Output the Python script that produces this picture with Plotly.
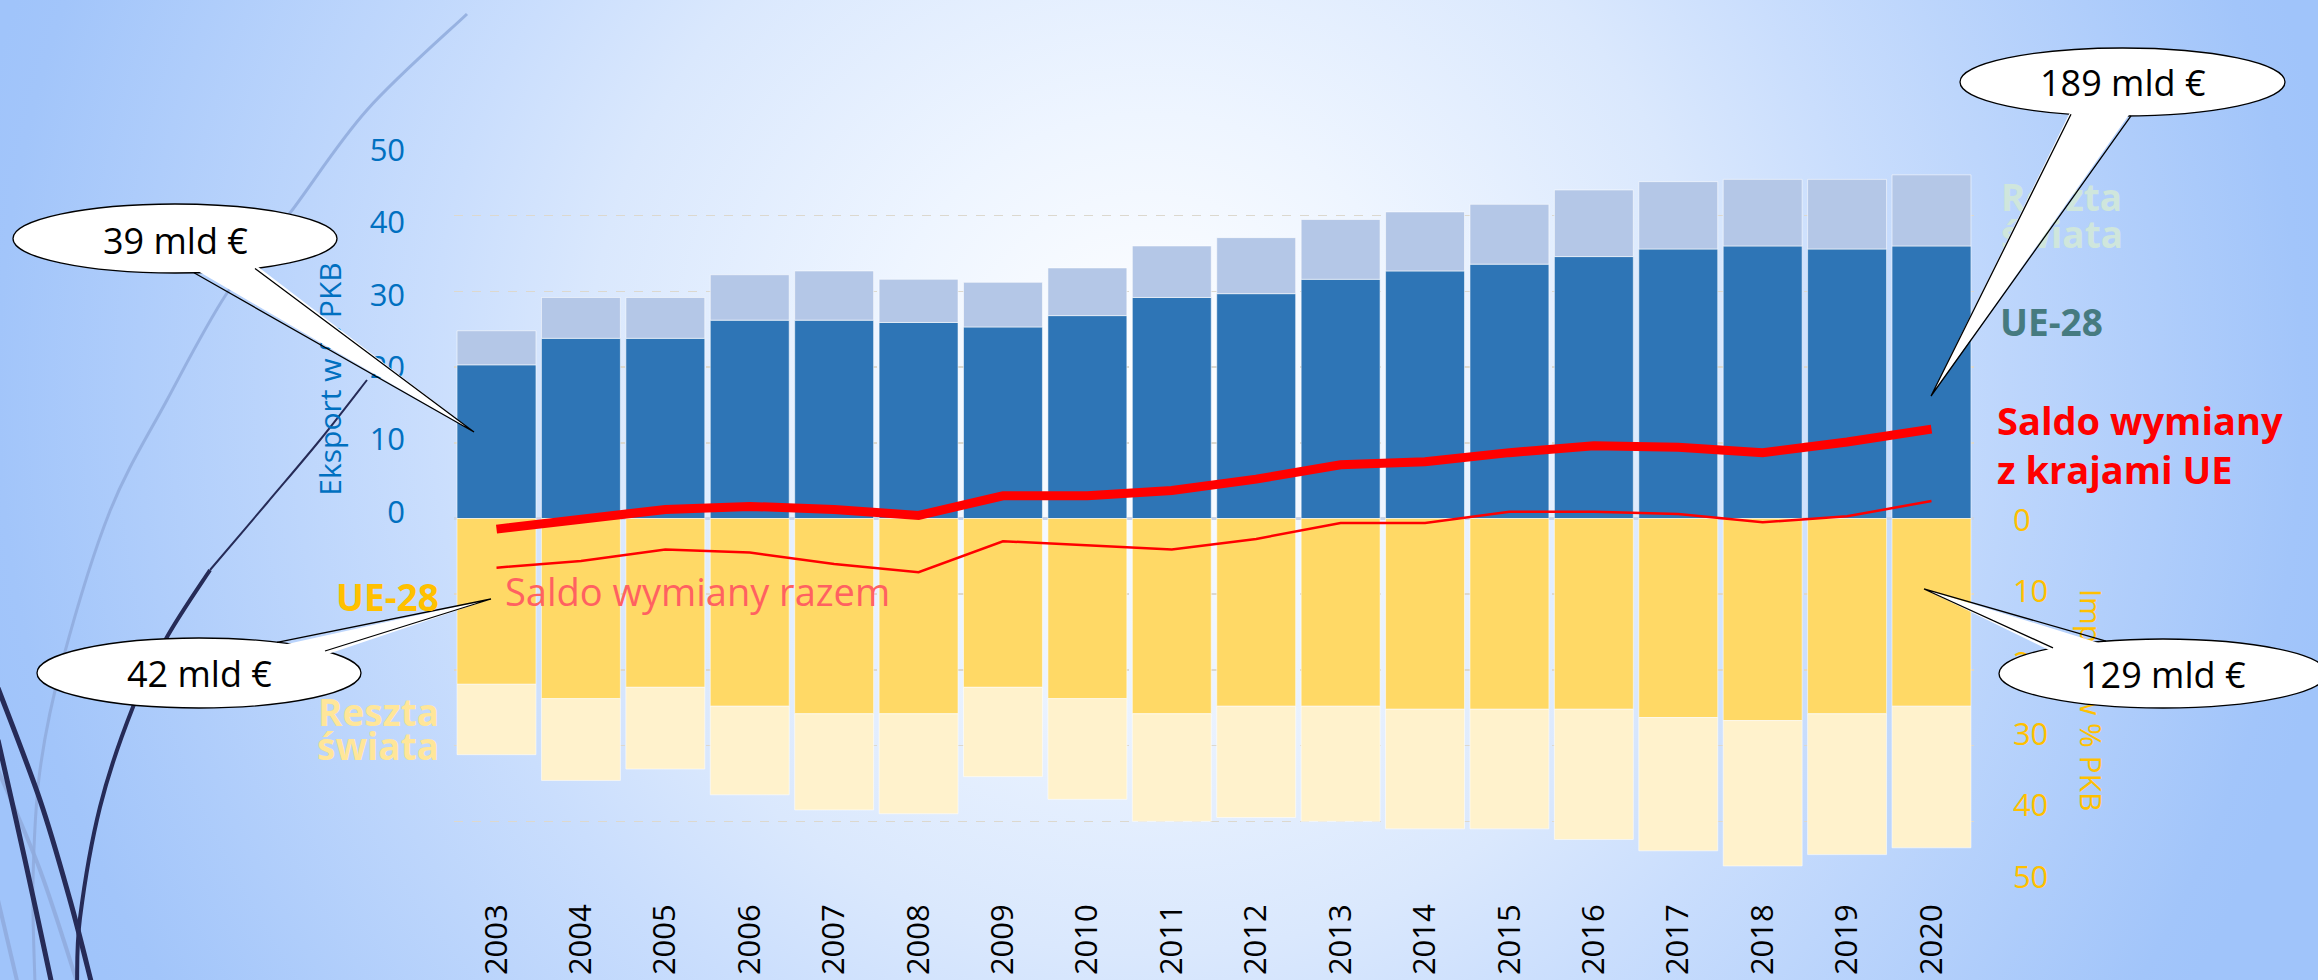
import base64
import plotly.graph_objects as go

# ---------------- data (% of GDP) ----------------
years = [str(y) for y in range(2003, 2021)]
export_eu = [20.3, 23.8, 23.8, 26.2, 26.2, 25.9, 25.3, 26.8, 29.2, 29.7, 31.6, 32.7, 33.6, 34.6, 35.6, 36.0, 35.6, 36.0]
export_rest = [4.5, 5.4, 5.4, 6.0, 6.5, 5.7, 5.9, 6.3, 6.8, 7.4, 7.9, 7.8, 7.9, 8.8, 8.9, 8.8, 9.2, 9.4]
import_eu = [21.9, 23.8, 22.3, 24.8, 25.8, 25.8, 22.3, 23.8, 25.8, 24.8, 24.8, 25.2, 25.2, 25.2, 26.3, 26.7, 25.8, 24.8]
import_rest = [9.3, 10.8, 10.8, 11.7, 12.7, 13.2, 11.8, 13.3, 14.2, 14.7, 15.2, 15.8, 15.8, 17.2, 17.6, 19.2, 18.6, 18.7]
balance_eu = [-1.4, -0.1, 1.2, 1.6, 1.2, 0.4, 3.0, 3.0, 3.7, 5.2, 7.1, 7.5, 8.7, 9.6, 9.4, 8.7, 10.1, 11.8]
balance_total = [-6.5, -5.6, -4.1, -4.5, -6.0, -7.1, -3.0, -3.6, -4.1, -2.7, -0.6, -0.6, 0.9, 0.9, 0.6, -0.5, 0.3, 2.3]
export_ticks = [0, 10, 20, 30, 40, 50]
import_ticks = [0, 10, 20, 30, 40, 50]
callout_texts = ["39 mld €", "42 mld €", "189 mld €", "129 mld €"]

# ---------------- layout geometry (pixels) ----------------
W, H = 2318, 980
PL, PR, PT, PB = 454.3, 1973.7, 140.0, 897.0
FONT = "Open Sans"


def fx(p):
    return p / W


def fy(p):
    return 1 - p / H


# ---------------- background (gradient + slide decoration) ----------------
def smooth(pts):
    d = "M %.1f %.1f" % pts[0]
    for i in range(len(pts) - 1):
        p0 = pts[i - 1] if i > 0 else pts[i]
        p1, p2 = pts[i], pts[i + 1]
        p3 = pts[i + 2] if i + 2 < len(pts) else p2
        c1 = (p1[0] + (p2[0] - p0[0]) / 6, p1[1] + (p2[1] - p0[1]) / 6)
        c2 = (p2[0] - (p3[0] - p1[0]) / 6, p2[1] - (p3[1] - p1[1]) / 6)
        d += " C %.1f %.1f %.1f %.1f %.1f %.1f" % (c1[0], c1[1], c2[0], c2[1], p2[0], p2[1])
    return d


light_arc = [(467, 14), (367, 110), (290, 213), (227, 293), (167, 400), (110, 511), (63, 659), (40, 770), (33, 881), (35, 985)]
navy_top = [(367, 380), (320, 440), (267, 503), (210, 570)]
navy_bot = [(210, 570), (167, 637), (133, 707), (100, 807), (80, 918), (77, 985)]
navy_a = [(-2, 688), (40, 800), (70, 900), (92, 985)]
navy_b = [(-2, 740), (25, 860), (52, 985)]
light_d = [(-2, 770), (40, 870), (78, 985)]
light_e = [(-2, 900), (18, 985)]

svg = f'''<svg xmlns="http://www.w3.org/2000/svg" width="{W}" height="{H}" viewBox="0 0 {W} {H}" preserveAspectRatio="none">
<defs><radialGradient id="g" gradientUnits="userSpaceOnUse" cx="1150" cy="390" r="1200">
<stop offset="0" stop-color="#FFFFFF"/>
<stop offset="0.23" stop-color="#EEF5FF"/>
<stop offset="0.47" stop-color="#DAE8FD"/>
<stop offset="0.6" stop-color="#CADEFD"/>
<stop offset="0.96" stop-color="#A2C5FA"/>
<stop offset="1" stop-color="#A0C4FA"/>
</radialGradient></defs>
<rect x="0" y="0" width="{W}" height="{H}" fill="url(#g)"/>
<path d="{smooth(light_arc)}" fill="none" stroke="#8FAADC" stroke-width="3" stroke-opacity="0.85"/>
<path d="{smooth(light_d)}" fill="none" stroke="#8FAADC" stroke-width="4" stroke-opacity="0.85"/>
<path d="{smooth(light_e)}" fill="none" stroke="#8FAADC" stroke-width="4" stroke-opacity="0.85"/>
<path d="{smooth(navy_top)}" fill="none" stroke="#262B57" stroke-width="2"/>
<path d="{smooth(navy_bot)}" fill="none" stroke="#262B57" stroke-width="4"/>
<path d="{smooth(navy_a)}" fill="none" stroke="#262B57" stroke-width="5"/>
<path d="{smooth(navy_b)}" fill="none" stroke="#262B57" stroke-width="5"/>
</svg>'''
bg_src = "data:image/svg+xml;base64," + base64.b64encode(svg.encode("utf-8")).decode("ascii")

# ---------------- traces ----------------
fig = go.Figure()
bar_line = dict(color="rgba(255,255,255,0.55)", width=1)
fig.add_trace(go.Bar(x=years, y=export_eu, name="Eksport UE-28", marker=dict(color="#2E75B6", line=bar_line)))
fig.add_trace(go.Bar(x=years, y=export_rest, name="Eksport reszta świata", marker=dict(color="#B4C7E7", line=bar_line)))
fig.add_trace(go.Bar(x=years, y=[-v for v in import_eu], name="Import UE-28", marker=dict(color="#FFD966", line=bar_line)))
fig.add_trace(go.Bar(x=years, y=[-v for v in import_rest], name="Import reszta świata", marker=dict(color="#FFF2CC", line=bar_line)))
fig.add_trace(go.Scatter(x=years, y=balance_total, mode="lines", name="Saldo wymiany razem",
                         line=dict(color="#FF0000", width=2.5)))
fig.add_trace(go.Scatter(x=years, y=balance_eu, mode="lines", name="Saldo wymiany z krajami UE",
                         line=dict(color="#FF0000", width=9)))
# empty carriers so that the two label axes (export scale left, import scale right) are drawn
fig.add_trace(go.Scatter(x=[None], y=[None], yaxis="y2", mode="lines", hoverinfo="skip", showlegend=False))
fig.add_trace(go.Scatter(x=[None], y=[None], yaxis="y3", mode="lines", hoverinfo="skip", showlegend=False))

# ---------------- axes ----------------
span = PB - PT
left_px_per = (512 - 150) / 50.0
left_top = (512 - PT) / left_px_per
left_rng = [left_top - span / left_px_per, left_top]
right_px_per = (877 - 520) / 50.0
right_top = (520 - PT) / right_px_per
right_rng = [right_top - span / right_px_per, right_top]

fig.update_layout(
    width=W, height=H,
    margin=dict(l=0, r=0, t=0, b=0, pad=0, autoexpand=False),
    paper_bgcolor="#C4DAFC", plot_bgcolor="rgba(0,0,0,0)",
    barmode="relative", bargap=0.065, showlegend=False,
    font=dict(family=FONT),
    xaxis=dict(domain=[fx(PL), fx(PR)], tickangle=-90, showgrid=False, showline=False, ticks="",
               tickfont=dict(family=FONT, size=31, color="#000000"), fixedrange=True),
    yaxis=dict(domain=[fy(PB), fy(PT)], range=[-50, 50], dtick=10, showticklabels=False,
               showgrid=True, gridcolor="#DCD8CE", griddash="dash", gridwidth=1.5,
               zeroline=True, zerolinecolor="#C9D4E6", zerolinewidth=2.5, fixedrange=True),
    yaxis2=dict(overlaying="y", anchor="x", side="left", range=left_rng,
                tickmode="array", tickvals=export_ticks, ticktext=[str(v) for v in export_ticks],
                tickfont=dict(family=FONT, size=31, color="#0070C0"),
                ticks="outside", ticklen=42, tickcolor="rgba(0,0,0,0)",
                showgrid=False, zeroline=False, showline=False, fixedrange=True),
    yaxis3=dict(overlaying="y", anchor="x", side="right", range=right_rng,
                tickmode="array", tickvals=[-v for v in import_ticks], ticktext=[str(v) for v in import_ticks],
                tickfont=dict(family=FONT, size=31, color="#FFC000"),
                ticks="outside", ticklen=32, tickcolor="rgba(0,0,0,0)",
                showgrid=False, zeroline=False, showline=False, fixedrange=True),
)

fig.add_layout_image(dict(source=bg_src, xref="paper", yref="paper", x=0, y=1, sizex=1, sizey=1,
                          xanchor="left", yanchor="top", sizing="stretch", layer="below"))

# ---------------- texts that sit under the callouts (shape labels) ----------------
shapes = []


def text_shape(cx, cy, text, size, color, angle=0, pos="middle center", w=6, h=6):
    shapes.append(dict(type="rect", xref="paper", yref="paper",
                       x0=fx(cx - w), x1=fx(cx + w), y0=fy(cy + h), y1=fy(cy - h),
                       line=dict(width=0), fillcolor="rgba(0,0,0,0)", layer="above",
                       label=dict(text=text, textangle=angle, textposition=pos, padding=0,
                                  font=dict(family=FONT, size=size, color=color))))


text_shape(331, 379, "Eksport w % PKB", 30, "#0070C0", angle=-90)
text_shape(2089, 700, "Import w % PKB", 30, "#FFC000", angle=90)
text_shape(1998 + 6, 199, "<b>Reszta</b>", 37, "#CFE6DC", pos="middle left")
text_shape(1998 + 6, 236, "<b>świata</b>", 37, "#CFE6DC", pos="middle left")

# ---------------- callout bubbles ----------------
callouts = [
    # ellipse box, tail base x's, side, tip, text centre
    ((13, 204, 337, 273), (194, 255), "bottom", (474, 432), (175, 240)),
    ((37, 638, 361, 708), (277, 325), "top", (491, 599), (199, 673)),
    ((1960, 48, 2285, 116), (2071, 2131), "bottom", (1931, 396), (2123, 82)),
    ((1999, 639, 2327, 708), (2053, 2106), "top", (1924, 589), (2163, 674)),
]
annotations = []
for (box, bxs, side, tip, tc), txt in zip(callouts, callout_texts):
    x0, y0, x1, y1 = box
    cx, cy = (x0 + x1) / 2, (y0 + y1) / 2
    rx, ry = (x1 - x0) / 2, (y1 - y0) / 2
    base = []
    for bx in bxs:
        k = max(0.0, 1 - ((bx - cx) / rx) ** 2) ** 0.5
        by = cy + ry * k if side == "bottom" else cy - ry * k
        base.append((bx, by))
    inset = -4 if side == "bottom" else 4
    shapes.append(dict(type="circle", xref="paper", yref="paper", x0=fx(x0), x1=fx(x1), y0=fy(y1), y1=fy(y0),
                       fillcolor="#FFFFFF", line=dict(color="#000000", width=1.3), layer="above"))
    fill_path = "M %.5f %.5f L %.5f %.5f L %.5f %.5f Z" % (
        fx(base[0][0]), fy(base[0][1] + inset), fx(tip[0]), fy(tip[1]), fx(base[1][0]), fy(base[1][1] + inset))
    shapes.append(dict(type="path", xref="paper", yref="paper", path=fill_path,
                       fillcolor="#FFFFFF", line=dict(width=0), layer="above"))
    edge_path = "M %.5f %.5f L %.5f %.5f L %.5f %.5f" % (
        fx(base[0][0]), fy(base[0][1]), fx(tip[0]), fy(tip[1]), fx(base[1][0]), fy(base[1][1]))
    shapes.append(dict(type="path", xref="paper", yref="paper", path=edge_path,
                       fillcolor="rgba(0,0,0,0)", line=dict(color="#000000", width=1.3), layer="above"))
    annotations.append(dict(xref="paper", yref="paper", x=fx(tc[0]), y=fy(tc[1]), text=txt, showarrow=False,
                            xanchor="center", yanchor="middle",
                            font=dict(family=FONT, size=36, color="#000000")))


def note(x, y, text, size, color, xanchor="left", align="left"):
    annotations.append(dict(xref="paper", yref="paper", x=fx(x), y=fy(y), text=text, showarrow=False,
                            xanchor=xanchor, yanchor="middle", align=align,
                            font=dict(family=FONT, size=size, color=color)))


note(1998, 321, "<b>UE-28</b>", 37, "#467B80")
note(1995, 444, "<b>Saldo wymiany<br>z krajami UE</b>", 38, "#FF0000")
note(441, 596, "<b>UE-28</b>", 37, "#FFC000", xanchor="right", align="right")
note(441, 711, "<b>Reszta</b>", 37, "#FFE699", xanchor="right", align="right")
note(441, 745, "<b>świata</b>", 37, "#FFE699", xanchor="right", align="right")
note(503, 591, "Saldo wymiany razem", 38, "#FF6161")

fig.update_layout(shapes=shapes, annotations=annotations)

fig.write_html("out.html", config={"displayModeBar": False, "staticPlot": True},
               post_script="document.body.style.margin='0';")
